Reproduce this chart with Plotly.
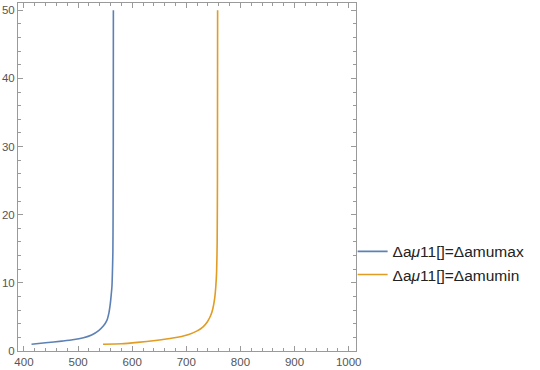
import plotly.graph_objects as go

# Data
blue_x = [414, 440, 470, 490, 510, 525, 538, 547, 553, 557, 559.5, 561.3, 562.6, 563.6, 564.3, 564.7, 565, 565.2]
blue_y = [1.0, 1.2, 1.45, 1.64, 1.95, 2.35, 3.0, 3.7, 4.45, 5.6, 6.9, 8.3, 9.5, 12, 14.5, 20, 30, 50]

orange_x = [546, 580, 610, 643, 675, 703, 720, 731, 739, 745, 749, 752.5, 754.5, 756, 757, 757.5, 757.8]
orange_y = [1.0, 1.07, 1.27, 1.55, 1.9, 2.4, 2.95, 3.55, 4.3, 5.2, 6.2, 7.8, 9.5, 11.7, 16, 25, 50]

names = ["Δa<i>μ</i>11[]=Δamumax", "Δa<i>μ</i>11[]=Δamumin"]
colors = ["#5E81B5", "#E19C24"]

fig = go.Figure()
fig.add_trace(go.Scatter(x=blue_x, y=blue_y, mode="lines", name=names[0],
                         line=dict(color=colors[0], width=1.6, shape="spline", smoothing=0.6)))
fig.add_trace(go.Scatter(x=orange_x, y=orange_y, mode="lines", name=names[1],
                         line=dict(color=colors[1], width=1.6, shape="spline", smoothing=0.6)))

axis_common = dict(
    showgrid=False, zeroline=False, showline=True, linecolor="#9a9a9a", linewidth=1,
    mirror="allticks", ticks="inside", ticklen=5, tickcolor="#9a9a9a", tickwidth=1,
    tickfont=dict(family="Liberation Sans, Arial, sans-serif", size=11.5, color="#555555"),
)

fig.update_xaxes(range=[389, 1013.5], tickmode="linear", tick0=400, dtick=100,
                 minor=dict(ticks="inside", ticklen=3, dtick=20, tick0=400, tickcolor="#9a9a9a"),
                 **axis_common)
fig.update_yaxes(range=[0, 51.06], tickmode="linear", tick0=0, dtick=10,
                 minor=dict(ticks="inside", ticklen=3, dtick=2, tick0=0, tickcolor="#9a9a9a"),
                 **axis_common)

fig.update_layout(
    width=540, height=370,
    margin=dict(l=15, r=184, t=2, b=16),
    paper_bgcolor="white", plot_bgcolor="white",
    showlegend=True,
    legend=dict(x=0.99, y=0.252, xanchor="left", yanchor="middle",
                font=dict(family="Liberation Sans, Arial, sans-serif", size=15.5, color="#222222"),
                bgcolor="rgba(0,0,0,0)", itemwidth=30, tracegroupgap=0),
)

fig.write_html("out.html")
